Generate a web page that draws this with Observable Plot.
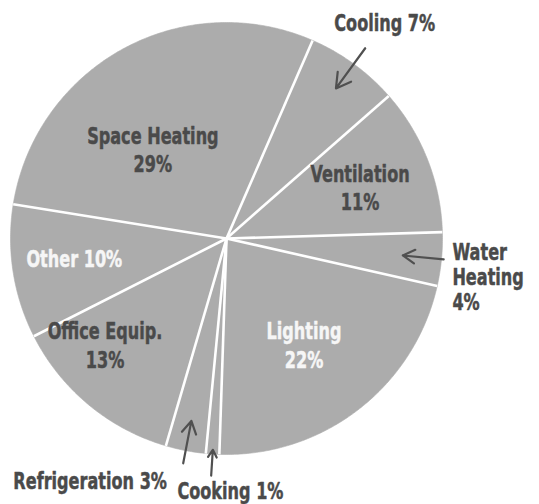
<!DOCTYPE html>
<html>
<head>
<meta charset="utf-8">
<script src="https://cdn.jsdelivr.net/npm/d3@7"></script>
<script src="https://cdn.jsdelivr.net/npm/@observablehq/plot@0.6"></script>
<style>
  html, body { margin: 0; padding: 0; background: #fff; }
  #chart svg { display: block; }
</style>
</head>
<body>
<div id="chart"></div>
<script>
// ---- data ----
const categories = ["Cooling", "Ventilation", "Water Heating", "Lighting", "Cooking", "Refrigeration", "Office Equip.", "Other", "Space Heating"];
const shares = [7, 11, 4, 22, 1, 3, 13, 10, 29];
const labelNames = ["Cooling", "Ventilation", "Water\nHeating", "Lighting", "Cooking", "Refrigeration", "Office Equip.", "Other", "Space Heating"];

// ---- layout / style (not data) ----
const startAngle = 23.5;           // degrees clockwise from north
const cx = 226, cy = 238, R = 216; // pixel layout of pie
const W = 539, H = 504;
const sep = [" ", "\n", "\n", "\n", " ", " ", "\n", " ", "\n"];
const labelR = [1.243, 0.663, 1.061, 0.606, 1.162, 1.282, 0.745, 0.71, 0.537];
const labelDA = [0, 0.3, 4.2, 1.4, -4.6, 18.6, 9.3, 1.8, -10.7];
const labelAnchor = ["middle", "middle", "start", "middle", "middle", "middle", "middle", "middle", "middle"];
const labelColor = ["#4a4a4a", "#4a4a4a", "#4a4a4a", "#f6f6f6", "#4a4a4a", "#4a4a4a", "#4a4a4a", "#f6f6f6", "#4a4a4a"];
const arrowR = [[1.09, 0.86], null, [1.01, 0.82], null, [1.10, 0.98], [1.06, 0.86], null, null, null];
const squeeze = 0.7;

const rad = d => d * Math.PI / 180;
const polar = (a, r) => [r * Math.sin(rad(a)), r * Math.cos(rad(a))];

// slices
const total = d3.sum(shares);
let acc = startAngle;
const slices = categories.map((c, i) => {
  const a0 = acc, a1 = acc + shares[i] / total * 360;
  acc = a1;
  return {cat: c, share: shares[i], a0, a1, mid: (a0 + a1) / 2, i};
});

// polygon points for each slice
const slicePts = [];
for (const s of slices) {
  slicePts.push({cat: s.cat, x: 0, y: 0});
  const n = Math.max(2, Math.ceil((s.a1 - s.a0) / 0.5));
  for (let k = 0; k <= n; k++) {
    const [x, y] = polar(s.a0 + (s.a1 - s.a0) * k / n, 1);
    slicePts.push({cat: s.cat, x, y});
  }
  slicePts.push({cat: s.cat, x: 0, y: 0});
}

const boundaries = slices.map(s => {
  const [x, y] = polar(s.a0, 1);
  return {x, y};
});

const labels = slices.map(s => {
  const [x, y] = polar(s.mid + labelDA[s.i], labelR[s.i]);
  return {x, y, text: labelNames[s.i] + sep[s.i] + s.share + "%", anchor: labelAnchor[s.i], color: labelColor[s.i]};
});

const arrows = slices.filter(s => arrowR[s.i]).map(s => {
  const [x1, y1] = polar(s.mid, arrowR[s.i][0]);
  const [x2, y2] = polar(s.mid, arrowR[s.i][1]);
  return {x1, y1, x2, y2};
});

const font = "'DejaVu Sans', sans-serif";

const chart = Plot.plot({
  width: W,
  height: H,
  marginTop: 0, marginRight: 0, marginBottom: 0, marginLeft: 0,
  x: {domain: [-cx / R, (W - cx) / R], axis: null},
  y: {domain: [-(H - cy) / R, cy / R], axis: null},
  style: {background: "#fff"},
  marks: [
    Plot.line(slicePts, {x: "x", y: "y", z: "cat", fill: "#acacac", stroke: "#acacac", strokeWidth: 0.6}),
    Plot.link(boundaries, {x1: d => 0, y1: d => 0, x2: "x", y2: "y", stroke: "#ffffff", strokeWidth: 2.6}),
    Plot.arrow(arrows, {x1: "x1", y1: "y1", x2: "x2", y2: "y2", stroke: "#505050", strokeWidth: 2.2, headLength: 12}),
    Plot.text(labels.filter(d => d.anchor === "middle"), {
      x: "x", y: "y", text: "text", fill: "color", stroke: "color", strokeWidth: 0.5, textAnchor: "middle", lineAnchor: "middle",
      fontSize: 23, fontWeight: "bold", fontFamily: font, lineHeight: 1.25
    }),
    Plot.text(labels.filter(d => d.anchor === "start"), {
      x: "x", y: "y", text: "text", fill: "color", stroke: "color", strokeWidth: 0.5, textAnchor: "start", lineAnchor: "middle",
      fontSize: 23, fontWeight: "bold", fontFamily: font, lineHeight: 1.1
    })
  ]
});

// condense the label glyphs horizontally (style only)
chart.querySelectorAll('g[aria-label="text"] > text').forEach(t => {
  const tr = t.getAttribute("transform");
  if (tr && tr.includes("translate")) {
    t.setAttribute("transform", tr + ` scale(${squeeze},1)`);
  } else {
    const x = +t.getAttribute("x") || 0, y = +t.getAttribute("y") || 0;
    t.removeAttribute("x"); t.removeAttribute("y");
    t.querySelectorAll("tspan").forEach(ts => { if (ts.getAttribute("x") != null) ts.setAttribute("x", 0); });
    t.setAttribute("transform", `translate(${x},${y}) scale(${squeeze},1)`);
  }
});
document.getElementById("chart").appendChild(chart);
</script>
</body>
</html>
